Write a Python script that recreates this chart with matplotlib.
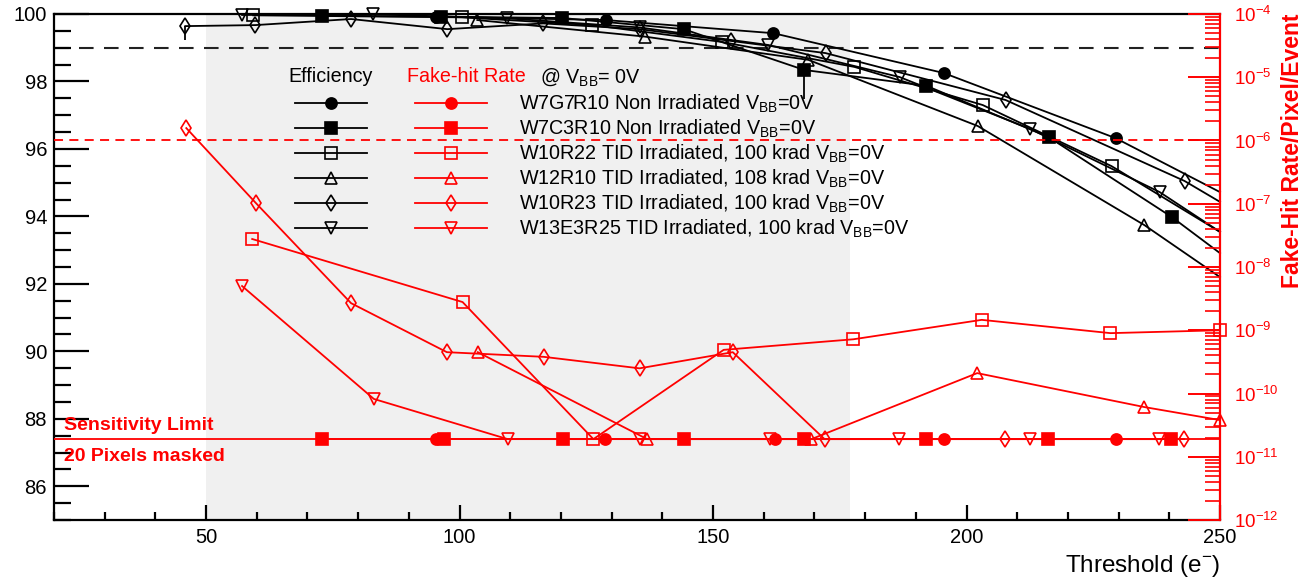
import numpy as np
import matplotlib.pyplot as plt
from matplotlib.lines import Line2D
from matplotlib.legend_handler import HandlerTuple
from matplotlib.ticker import MultipleLocator, LogLocator, NullFormatter

plt.rcParams['font.family'] = ['Liberation Sans', 'DejaVu Sans']
plt.rcParams['mathtext.fontset'] = 'custom'
plt.rcParams['mathtext.rm'] = 'Liberation Sans'
plt.rcParams['mathtext.it'] = 'Liberation Sans:italic'
plt.rcParams['mathtext.bf'] = 'Liberation Sans:bold'

sens_limit = 1.9e-11
eff_req = 99.0
fhr_req = 1e-6
span_lo, span_hi = 50, 177

# efficiency (%) vs threshold; last point of each list is where the curve leaves the frame
thr_g7 = [95.4, 128.8, 161.9, 195.5, 229.4, 250]
eff_g7 = [99.92, 99.82, 99.43, 98.25, 96.32, 94.72]
thr_c3 = [72.9, 96.4, 120.3, 144.2, 168.0, 192.1, 216.2, 240.5, 250]
eff_c3 = [99.95, 99.92, 99.88, 99.55, 98.34, 97.87, 96.35, 93.98, 92.91]
errlo_c3 = [0, 0, 0, 0, 0.85, 0, 0, 0, 0]
thr_r22 = [59.3, 100.5, 126.2, 151.8, 177.9, 203.2, 228.6, 250]
eff_r22 = [99.96, 99.9, 99.67, 99.17, 98.43, 97.3, 95.49, 93.54]
thr_r10 = [103.5, 136.5, 168.8, 202.2, 235.1, 250]
eff_r10 = [99.82, 99.33, 98.64, 96.68, 93.74, 92.2]
thr_r23 = [45.9, 59.7, 78.6, 97.6, 116.5, 135.5, 153.6, 172.2, 207.7, 243.0, 250]
eff_r23 = [99.64, 99.67, 99.85, 99.55, 99.72, 99.55, 99.2, 98.84, 97.45, 95.05, 94.43]
errlo_r23 = [0.4, 0, 0, 0, 0, 0, 0, 0, 0, 0, 0]
thr_e3 = [57.1, 83.0, 109.4, 135.5, 160.9, 186.8, 212.6, 238.1, 250]
eff_e3 = [99.97, 99.99, 99.87, 99.6, 99.08, 98.13, 96.59, 94.72, 93.54]

# fake-hit rate (/pixel/event) vs threshold
fthr_g7 = [95.4, 128.6, 162.2, 195.6, 229.5]
fhr_g7 = [sens_limit, sens_limit, sens_limit, sens_limit, sens_limit]
fthr_c3 = [72.8, 97.0, 120.5, 144.2, 168.0, 192.0, 216.0, 240.3]
fhr_c3 = [sens_limit, sens_limit, sens_limit, sens_limit, sens_limit, sens_limit, sens_limit, sens_limit]
fthr_r22 = [59.1, 100.6, 126.4, 152.1, 177.7, 203.0, 228.4, 250]
fhr_r22 = [2.77e-8, 2.79e-9, sens_limit, 4.9e-10, 7.2e-10, 1.46e-9, 9.0e-10, 1.0e-9]
fthr_r10 = [103.6, 137.0, 169.4, 202.1, 235.1, 250]
fhr_r10 = [4.5e-10, sens_limit, sens_limit, 2.1e-10, 6.1e-11, 3.8e-11]
fthr_r23 = [46.1, 59.8, 78.6, 97.5, 116.6, 135.5, 153.9, 172.0, 207.6, 242.9]
fhr_r23 = [1.57e-6, 1.03e-7, 2.68e-9, 4.5e-10, 3.8e-10, 2.5e-10, 4.5e-10, sens_limit, sens_limit, sens_limit]
fthr_e3 = [57.1, 83.1, 109.5, 135.5, 161.3, 186.7, 212.5, 238.0]
fhr_e3 = [5.0e-9, 8.2e-11, sens_limit, sens_limit, sens_limit, sens_limit, sens_limit, sens_limit]

names = ['W7G7R10 Non Irradiated', 'W7C3R10 Non Irradiated',
         'W10R22 TID Irradiated, 100 krad', 'W12R10 TID Irradiated, 108 krad',
         'W10R23 TID Irradiated, 100 krad', 'W13E3R25 TID Irradiated, 100 krad']
markers = ['o', 's', 's', '^', 'd', 'v']
filled = [True, True, False, False, False, False]
msizes = [8, 8, 9, 9, 8, 9]

eff_data = [(thr_g7, eff_g7, None), (thr_c3, eff_c3, errlo_c3), (thr_r22, eff_r22, None),
            (thr_r10, eff_r10, None), (thr_r23, eff_r23, errlo_r23), (thr_e3, eff_e3, None)]
fhr_data = [(fthr_g7, fhr_g7), (fthr_c3, fhr_c3), (fthr_r22, fhr_r22),
            (fthr_r10, fhr_r10), (fthr_r23, fhr_r23), (fthr_e3, fhr_e3)]

red = '#ff0000'

fig = plt.figure(figsize=(13.1, 5.82), dpi=100)
ax = fig.add_axes([0.0412, 0.1065, 0.8901, 0.8695])
ax.axvspan(span_lo, span_hi, color='#f0f0f0', lw=0, zorder=0)
ax.axhline(eff_req, color='#222222', ls=(0, (7, 5)), lw=1.5, zorder=1)

for i, (x, y, elo) in enumerate(eff_data):
    mfc = 'k' if filled[i] else 'none'
    ax.plot(x, y, color='k', lw=1.3, marker=markers[i], ms=msizes[i], mfc=mfc, mec='k',
            mew=1.2, markevery=list(range(len(x) - 1)), clip_on=False, zorder=3)
    if elo is not None:
        ax.errorbar(x, y, yerr=[elo, [0] * len(elo)], fmt='none', ecolor='k', elinewidth=1.3,
                    capsize=0, zorder=3)

ax.set_xlim(20, 250)
ax.set_ylim(85, 100)
ax.xaxis.set_major_locator(MultipleLocator(50))
ax.xaxis.set_minor_locator(MultipleLocator(10))
ax.yaxis.set_major_locator(MultipleLocator(2))
ax.yaxis.set_minor_locator(MultipleLocator(0.5))
ax.tick_params(axis='y', which='major', direction='in', length=25, width=1.6, labelsize=14.5, pad=5)
ax.tick_params(axis='y', which='minor', direction='in', length=12.5, width=1.6)
ax.tick_params(axis='x', which='major', direction='in', length=11, width=1.6, labelsize=14.5, pad=6)
ax.tick_params(axis='x', which='minor', direction='in', length=5.5, width=1.6)
ax.tick_params(top=False, right=False, which='both')
for s in ['left', 'bottom', 'top']:
    ax.spines[s].set_linewidth(1.6)
ax.spines['right'].set_visible(False)
ax.set_xlabel('Threshold (e$^{-}$)', fontsize=17.5, loc='right', labelpad=4)

ax2 = ax.twinx()
ax2.set_yscale('log')
ax2.set_ylim(1e-12, 1e-4)
ax2.axhline(fhr_req, color=red, ls=(0, (5, 3.5)), lw=1.3, zorder=1)
ax2.axhline(sens_limit, color=red, lw=1.3, zorder=2)

for i, (x, y) in enumerate(fhr_data):
    mfc = red if filled[i] else 'none'
    ax2.plot(x, y, color=red, lw=1.3, marker=markers[i], ms=msizes[i], mfc=mfc, mec=red,
             mew=1.2, clip_on=False, zorder=3)

ax2.yaxis.set_major_locator(LogLocator(base=10, numticks=20))
ax2.yaxis.set_minor_locator(LogLocator(base=10, subs=np.arange(2, 10), numticks=20))
ax2.yaxis.set_minor_formatter(NullFormatter())
ax2.tick_params(axis='y', which='major', direction='in', length=23, width=1.4, colors=red,
                labelsize=13.5, pad=10)
ax2.tick_params(axis='y', which='minor', direction='in', length=11, width=1.2, colors=red)
for s in ['left', 'bottom', 'top']:
    ax2.spines[s].set_visible(False)
ax2.spines['right'].set_color(red)
ax2.spines['right'].set_linewidth(1.6)
ax2.set_ylabel('Fake-Hit Rate/Pixel/Event', color=red, fontsize=16.5, fontweight='bold',
               loc='top', labelpad=2)

# legend: efficiency and fake-hit samples side by side
handles = []
labels = []
for i in range(len(names)):
    hb = Line2D([], [], color='k', lw=1.3, marker=markers[i], ms=msizes[i],
                mfc='k' if filled[i] else 'none', mec='k', mew=1.2)
    hr = Line2D([], [], color=red, lw=1.3, marker=markers[i], ms=msizes[i],
                mfc=red if filled[i] else 'none', mec=red, mew=1.2)
    handles.append((hb, hr))
    labels.append(names[i] + ' V$_{\\rm BB}$=0V')
ax2.legend(handles, labels, handler_map={tuple: HandlerTuple(ndivide=None, pad=2.44)},
           loc='upper left', bbox_to_anchor=(0.2067, 0.845), frameon=False, fontsize=14.2,
           handlelength=9.75, handletextpad=1.6, labelspacing=0.14, borderpad=0,
           borderaxespad=0, numpoints=1)

ax2.text(0.2376, 0.8755, 'Efficiency', transform=ax2.transAxes, fontsize=14.2,
         ha='center', va='center')
ax2.text(0.3027, 0.8755, 'Fake-hit Rate', transform=ax2.transAxes, fontsize=14.2,
         color=red, ha='left', va='center')
ax2.text(0.4168, 0.8755, '@ V$_{\\rm BB}$= 0V', transform=ax2.transAxes, fontsize=14.2,
         ha='left', va='center')
ax2.text(0.0086, 0.1877, 'Sensitivity Limit', transform=ax2.transAxes, fontsize=14,
         fontweight='bold', color=red, ha='left', va='center')
ax2.text(0.0086, 0.1265, '20 Pixels masked', transform=ax2.transAxes, fontsize=14,
         fontweight='bold', color=red, ha='left', va='center')

fig.savefig('out.png', dpi=100)
